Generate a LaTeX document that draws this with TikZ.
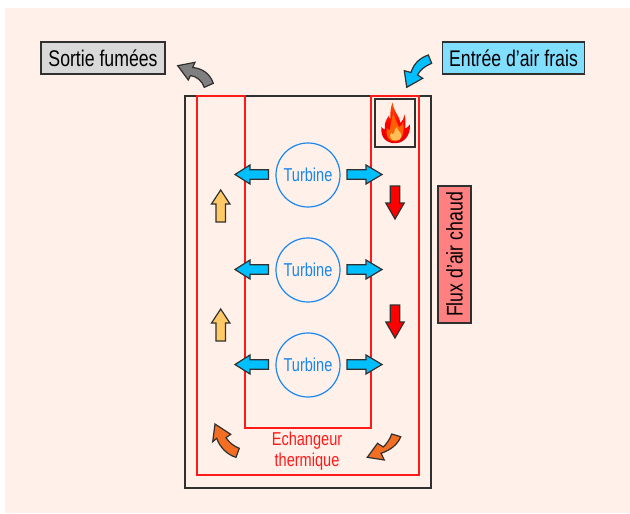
\documentclass[tikz,border=0pt]{standalone}
\usepackage{fontspec}
\setmainfont[FakeStretch=0.78]{Liberation Sans}
\definecolor{bgc}{HTML}{FFF1E9}
\definecolor{dk}{HTML}{303030}
\definecolor{redl}{HTML}{FF1A1A}
\definecolor{bluet}{HTML}{1A86F0}
\definecolor{cyana}{HTML}{00BFFF}
\definecolor{yela}{HTML}{FFC966}
\definecolor{orga}{HTML}{F26E22}
\definecolor{graya}{HTML}{7F7F7F}
\tikzset{
  arrowshape/.style={draw=dk,line width=0.9pt,line join=miter},
  wall/.style={draw=dk,line width=0.9pt},
  exch/.style={draw=redl,line width=1pt},
  turbine/.style={circle,draw=bluet,line width=0.9pt,minimum size=64pt*0.75,inner sep=0pt,text=bluet,font=\fontsize{14}{16}\selectfont},
  tag/.style={draw=dk,line width=0.9pt,text=black,font=\fontsize{17}{20}\selectfont,inner sep=0pt,anchor=center},
}
% tail x, base x, tip x, y
\newcommand{\harrow}[4]{\draw[arrowshape,fill=cyana] (#1,#4-4.7) -- (#2,#4-4.7) -- (#2,#4-9.5) -- (#3,#4) -- (#2,#4+9.5) -- (#2,#4+4.7) -- (#1,#4+4.7) -- cycle;}
% x, tail y, base y, tip y, colour
\newcommand{\varrow}[5]{\draw[arrowshape,fill=#5] (#1-4.8,#2) -- (#1-4.8,#3) -- (#1-9.2,#3) -- (#1,#4) -- (#1+9.2,#3) -- (#1+4.8,#3) -- (#1+4.8,#2) -- cycle;}
\begin{document}
\begin{tikzpicture}[x=0.75pt,y=-0.75pt]
\useasboundingbox (0,0) rectangle (630,513);
\fill[bgc] (5,8) rectangle (630,513);
% enclosure
\draw[wall] (185,96) rectangle (431,488);
\draw[exch] (197,96) -- (245,96) -- (245,428) -- (371,428) -- (371,96) -- (419,96) -- (419,475) -- (197,475) -- cycle;
% burner
\draw[wall] (375,99) rectangle (415,147);
\shade[top color=orange!70!red,bottom color=red!90!black,middle color=red]
  (395.5,143.2) .. controls (387,143.5) and (380,138) .. (381.5,127)
  .. controls (382.5,128.5) and (384,129.5) .. (385,129.5)
  .. controls (384,124) and (386,119.5) .. (389,115.5)
  .. controls (389,117.5) and (389.5,118.5) .. (390.5,119)
  .. controls (390,113) and (390.5,107) .. (392.7,102.3)
  .. controls (393,109) and (396.5,113) .. (399,118)
  .. controls (400,120) and (400.5,121) .. (400.5,123)
  .. controls (402.5,121) and (404,118) .. (404.5,114.5)
  .. controls (406,119) and (405.5,124) .. (405,128.5)
  .. controls (407,128) and (408.5,126.5) .. (409.8,124.5)
  .. controls (411,135) and (404,143) .. (395.5,143.2) -- cycle;
\fill[orange!75!red] (395.5,141.5) .. controls (389,141.5) and (385,137) .. (387,128)
  .. controls (388,129.5) and (389,130) .. (390,130)
  .. controls (390,125) and (392,118) .. (393.5,112)
  .. controls (394,118) and (397,122) .. (399,127)
  .. controls (401,126) and (402,125) .. (403,122)
  .. controls (405,132) and (402,141.5) .. (395.5,141.5) -- cycle;
\fill[yela!85!orange] (395.5,140.5) .. controls (390.5,140.5) and (389,136.5) .. (391,132.5)
  .. controls (392,134) and (393,134.5) .. (394,133.5)
  .. controls (394,130.5) and (395,128.5) .. (397,127)
  .. controls (397,130.5) and (401.5,132) .. (401.5,136)
  .. controls (401.5,139) and (398.5,140.5) .. (395.5,140.5) -- cycle;
% turbines
\node[turbine] (t1) at (308,175) {Turbine};
\node[turbine] (t2) at (308,270) {Turbine};
\node[turbine] (t3) at (308,365) {Turbine};
\foreach \y in {174.5,269.5,364.5}{
  \harrow{268.5}{250}{235}{\y}
  \harrow{347}{366}{382}{\y}
}
% straight flow arrows
\varrow{220.7}{222}{204}{190}{yela}
\varrow{220.7}{341}{323}{309}{yela}
\varrow{395}{186}{203}{219}{red}
\varrow{395}{305}{322}{338}{red}
% curved flow arrows
\draw[arrowshape,fill=cyana] (428.3,55) .. controls (420,58) and (414,63) .. (411,72.5) -- (404.3,70.7) -- (406.7,87.3) -- (422.7,78.3) -- (417.5,75) .. controls (420,70) and (425,66) .. (431.7,63.3) -- cycle;
\draw[arrowshape,fill=graya] (213.3,83.3) .. controls (210,74) and (203,68.5) .. (192.7,67.5) -- (195,62.3) -- (177.7,65.7) -- (188.3,80) -- (190.5,75.5) .. controls (197,76.5) and (202,81) .. (204.3,87.3) -- cycle;
\draw[arrowshape,fill=orga] (239.3,448.3) .. controls (233,446) and (229,442) .. (226,437.7) -- (230.7,434.3) -- (215,424) -- (212.7,441.7) -- (216.7,438.3) .. controls (220,448) and (228,455) .. (236,457.3) -- cycle;
\draw[arrowshape,fill=orga] (391.7,434) .. controls (390,439) and (386.5,444) .. (383.3,447) -- (377.5,443.3) -- (367.3,457.3) -- (384.3,460) -- (381,453.3) .. controls (391,450) and (398,444) .. (400.7,436.7) -- cycle;
% labels
\node[tag,fill=black!15,minimum width=93pt,minimum height=24pt] (sortie) at (103,58) {Sortie fumées};
\node[tag,fill=cyana!50,minimum width=107pt,minimum height=24pt] (entree) at (513.5,58) {Entrée d'air frais};
\node[tag,fill=red!50,rotate=90,minimum width=102.75pt,minimum height=24.75pt] (flux) at (454.5,254.5) {Flux d'air chaud};
\node[text=redl,align=center,font=\fontsize{14}{15.7}\selectfont] (ech) at (307,451) {Echangeur\\thermique};
\end{tikzpicture}
\end{document}
